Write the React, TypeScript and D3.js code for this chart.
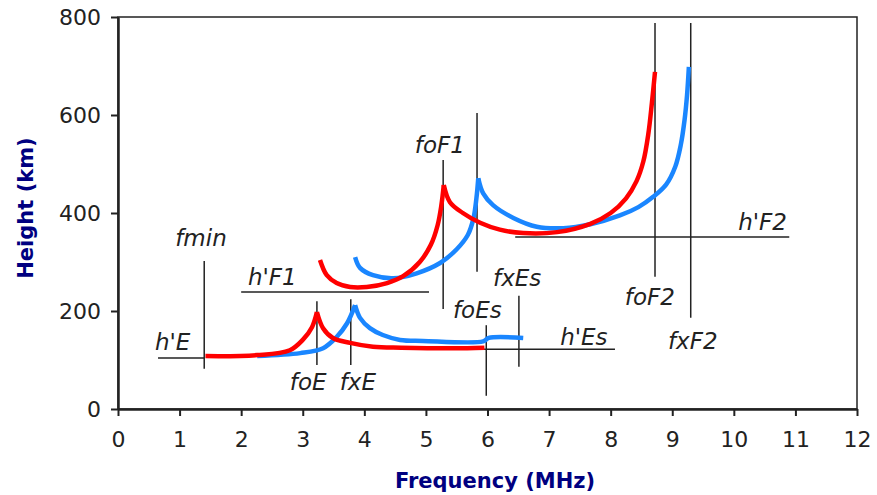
import React, { useRef, useEffect } from 'react';
import * as d3 from 'd3';

type Pt = [number, number];

// ordinary (red) and extraordinary (blue) traces, [freq MHz, height km]
const redERise: Pt[] = [[1.42, 108], [2.26, 110], [2.79, 120], [3.0, 141], [3.15, 167], [3.23, 198]];
const redEFall: Pt[] = [[3.23, 198], [3.33, 165], [3.49, 145], [3.77, 135], [4.14, 127], [4.6, 125], [5.67, 124], [5.95, 125]];
const blueERise: Pt[] = [[2.26, 108], [2.96, 114], [3.33, 124], [3.55, 147], [3.72, 175], [3.85, 212]];
const blueEFall: Pt[] = [[3.85, 212], [3.93, 186], [4.09, 165], [4.3, 151], [4.58, 141], [4.95, 139], [5.93, 138], [6.02, 145], [6.58, 145]];
const redFRise: Pt[] = [[3.28, 304], [3.39, 273], [3.55, 257], [3.77, 249], [4.04, 249], [4.37, 257], [4.63, 271], [4.9, 300], [5.08, 335], [5.19, 375], [5.25, 415], [5.29, 457]];
const redFFall: Pt[] = [[5.29, 457], [5.39, 422], [5.6, 400], [5.88, 380], [6.2, 366], [6.58, 359], [7.13, 361], [7.67, 378], [8.0, 400], [8.25, 430], [8.42, 465], [8.53, 505], [8.61, 560], [8.67, 625], [8.72, 688]];
const blueFRise: Pt[] = [[3.85, 310], [3.93, 288], [4.14, 273], [4.47, 267], [4.85, 277], [5.23, 298], [5.5, 326], [5.68, 355], [5.77, 388], [5.82, 430], [5.85, 471]];
const blueFFall: Pt[] = [[5.85, 471], [5.93, 440], [6.09, 416], [6.42, 390], [6.8, 372], [7.23, 369], [7.67, 377], [8.15, 395], [8.45, 412], [8.69, 433], [8.9, 458], [9.05, 495], [9.14, 540], [9.2, 590], [9.24, 640], [9.27, 698]];

// reference lines
const hLines = [
  { h: 104, f0: 0.65, f1: 1.4 },
  { h: 239, f0: 2.0, f1: 5.05 },
  { h: 122, f0: 5.63, f1: 8.07 },
  { h: 351, f0: 6.45, f1: 10.9 },
];
const vLines = [
  { f: 1.4, h0: 82, h1: 302 },
  { f: 3.23, h0: 90, h1: 220 },
  { f: 3.78, h0: 90, h1: 224 },
  { f: 5.28, h0: 204, h1: 508 },
  { f: 5.83, h0: 280, h1: 604 },
  { f: 5.98, h0: 27, h1: 171 },
  { f: 6.51, h0: 86, h1: 231 },
  { f: 8.72, h0: 270, h1: 788 },
  { f: 9.3, h0: 186, h1: 788 },
];
const labels = [
  { text: 'fmin', f: 0.93, h: 333 },
  { text: "h'E", f: 0.6, h: 120 },
  { text: "h'F1", f: 2.11, h: 253 },
  { text: 'foE', f: 2.79, h: 39 },
  { text: 'fxE', f: 3.6, h: 39 },
  { text: 'foF1', f: 4.82, h: 522 },
  { text: 'fxEs', f: 6.09, h: 251 },
  { text: 'foEs', f: 5.44, h: 186 },
  { text: "h'Es", f: 7.18, h: 131 },
  { text: 'foF2', f: 8.23, h: 212 },
  { text: 'fxF2', f: 8.93, h: 122 },
  { text: "h'F2", f: 10.07, h: 365 },
];
const xTicks = d3.range(0, 13);
const yTicks = [0, 200, 400, 600, 800];

const W = 877, H = 495;
const margin = { top: 17, right: 20, bottom: 86, left: 118 };

const App = () => {
  const ref = useRef<SVGSVGElement | null>(null);

  useEffect(() => {
    if (!ref.current) return;
    const svg = d3.select(ref.current);
    svg.selectAll('*').remove();

    const x = d3.scaleLinear().domain([0, 12]).range([margin.left, W - margin.right]);
    const y = d3.scaleLinear().domain([0, 800]).range([H - margin.bottom, margin.top]);

    // frame
    svg.append('rect')
      .attr('x', x(0)).attr('y', y(800))
      .attr('width', x(12) - x(0)).attr('height', y(0) - y(800))
      .attr('fill', 'none').attr('stroke', '#222').attr('stroke-width', 1.5);

    const gx = svg.append('g')
      .attr('transform', `translate(0,${y(0)})`)
      .call(d3.axisBottom(x).tickValues(xTicks).tickFormat(d3.format('d')).tickSize(7).tickSizeOuter(0));
    gx.select('.domain').attr('stroke', '#222').attr('stroke-width', 2.5);
    gx.selectAll('line').attr('stroke', '#222').attr('stroke-width', 2);
    gx.selectAll('text')
      .attr('y', 38).attr('dy', 0)
      .attr('font-family', 'DejaVu Sans').attr('font-size', 22).attr('fill', '#222');

    const gy = svg.append('g')
      .attr('transform', `translate(${x(0)},0)`)
      .call(d3.axisLeft(y).tickValues(yTicks).tickSize(7).tickPadding(10).tickSizeOuter(0));
    gy.select('.domain').attr('stroke', '#222').attr('stroke-width', 2.5);
    gy.selectAll('line').attr('stroke', '#222').attr('stroke-width', 2);
    gy.selectAll('text')
      .attr('font-family', 'DejaVu Sans').attr('font-size', 22).attr('fill', '#222');

    // reference lines
    svg.append('g').selectAll('line').data(hLines).enter().append('line')
      .attr('x1', d => x(d.f0)).attr('x2', d => x(d.f1))
      .attr('y1', d => y(d.h)).attr('y2', d => y(d.h))
      .attr('stroke', '#222').attr('stroke-width', 1.5);
    svg.append('g').selectAll('line').data(vLines).enter().append('line')
      .attr('x1', d => x(d.f)).attr('x2', d => x(d.f))
      .attr('y1', d => y(d.h0)).attr('y2', d => y(d.h1))
      .attr('stroke', '#222').attr('stroke-width', 1.5);

    // traces
    const line = d3.line<Pt>().x(d => x(d[0])).y(d => y(d[1])).curve(d3.curveCatmullRom.alpha(0.5));
    const traces = [
      { pts: blueERise, c: '#1a86ff' }, { pts: blueEFall, c: '#1a86ff' },
      { pts: blueFRise, c: '#1a86ff' }, { pts: blueFFall, c: '#1a86ff' },
      { pts: redERise, c: '#ff0000' }, { pts: redEFall, c: '#ff0000' },
      { pts: redFRise, c: '#ff0000' }, { pts: redFFall, c: '#ff0000' },
    ];
    svg.append('g').selectAll('path').data(traces).enter().append('path')
      .attr('d', d => line(d.pts))
      .attr('fill', 'none').attr('stroke', d => d.c)
      .attr('stroke-width', 4.5).attr('stroke-linecap', 'butt');

    // labels
    svg.append('g').selectAll('text').data(labels).enter().append('text')
      .attr('x', d => x(d.f)).attr('y', d => y(d.h))
      .attr('font-family', 'DejaVu Sans').attr('font-style', 'italic')
      .attr('font-size', 23).attr('fill', '#222')
      .text(d => d.text);

    // axis titles
    svg.append('text')
      .attr('x', 495).attr('y', 488)
      .attr('text-anchor', 'middle')
      .attr('font-family', 'DejaVu Sans').attr('font-weight', 'bold')
      .attr('font-size', 21).attr('fill', '#000080')
      .text('Frequency (MHz)');
    svg.append('text')
      .attr('transform', 'translate(33,208) rotate(-90)')
      .attr('text-anchor', 'middle')
      .attr('font-family', 'DejaVu Sans').attr('font-weight', 'bold')
      .attr('font-size', 21).attr('fill', '#000080')
      .text('Height (km)');
  }, []);

  return (
    <svg ref={ref} width={W} height={H}
      style={{ position: 'absolute', left: 0, top: 0, background: '#fff' }} />
  );
};

export default App;
